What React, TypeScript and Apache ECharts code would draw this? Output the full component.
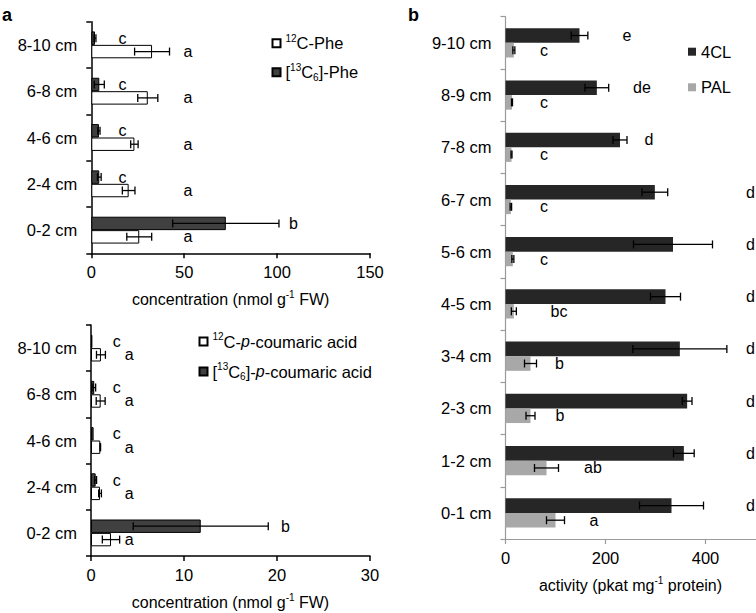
import React, { useEffect, useRef } from 'react';
import * as echarts from 'echarts';

const FONT = "'Liberation Sans', Arial, Helvetica, sans-serif";

// Panel a (top): Phe
const pheCats = ['0-2 cm', '2-4 cm', '4-6 cm', '6-8 cm', '8-10 cm'];
const phe12 = [25.8, 20.1, 23.2, 30.4, 32.7];
const phe12Err = [6.7, 3.4, 2.0, 5.4, 9.4];
const phe13 = [72.4, 4.3, 4.1, 4.3, 2.0];
const phe13Err = [28.6, 1.0, 0.6, 2.7, 0.5];
const phe13Letters = ['b', 'c', 'c', 'c', 'c'];
const phe13LetterX = [108.8, 16.8, 16.8, 16.8, 16.8];
const phe12Letters = ['a', 'a', 'a', 'a', 'a'];
const phe12LetterX = [52, 52, 52, 52, 52];

// Panel a (bottom): p-coumaric acid
const couCats = ['0-2 cm', '2-4 cm', '4-6 cm', '6-8 cm', '8-10 cm'];
const cou12 = [2.15, 0.97, 1.0, 1.04, 1.07];
const cou12Err = [0.93, 0.15, 0.03, 0.48, 0.48];
const cou13 = [11.8, 0.5, 0.28, 0.35, 0.15];
const cou13Err = [7.26, 0.1, 0.0, 0.15, 0.0];
const cou13Letters = ['b', 'c', 'c', 'c', 'c'];
const cou13LetterX = [20.9, 2.76, 2.76, 2.76, 2.76];
const cou12Letters = ['a', 'a', 'a', 'a', 'a'];
const cou12LetterX = [4.1, 4.1, 4.1, 4.1, 4.1];

// Panel b: enzyme activity
const actCats = ['0-1 cm', '1-2 cm', '2-3 cm', '3-4 cm', '4-5 cm', '5-6 cm', '6-7 cm', '7-8 cm', '8-9 cm', '9-10 cm'];
const cl4 = [332, 356.7, 363.3, 348.7, 320, 335, 298.7, 229, 182.7, 148];
const cl4Err = [64, 20.7, 9.7, 94, 30, 79, 25.7, 14, 23.7, 16.7];
const pal = [100, 82, 50, 50, 16.7, 14.7, 10.7, 12, 13, 16.7];
const palErr = [18, 24, 9, 12, 5, 2, 1.5, 1, 1, 2];
const cl4Letters = ['d', 'd', 'd', 'd', 'd', 'd', 'd', 'd', 'de', 'e'];
const cl4LetterX = [490, 490, 490, 490, 490, 490, 490, 287, 273, 243];
const palLetters = ['a', 'ab', 'b', 'b', 'bc', 'c', 'c', 'c', 'c', 'c'];
const palLetterX = [177, 175, 109, 108, 107, 77, 77, 77, 77, 77];

const legendNames: Record<string, string> = {
  '12C-Phe': '{sup|12}C-Phe',
  '13C6-Phe': '[{sup|13}C{sub|6}]-Phe',
  '12C-p-coumaric acid': '{sup|12}C-{it|p}-coumaric acid',
  '13C6-p-coumaric acid': '[{sup|13}C{sub|6}]-{it|p}-coumaric acid',
  '4CL': '4CL',
  PAL: 'PAL',
};

const rich = {
  sup: { fontSize: 10, lineHeight: 14, verticalAlign: 'top', fontFamily: FONT, color: '#000' },
  sub: { fontSize: 10, lineHeight: 14, verticalAlign: 'bottom', fontFamily: FONT, color: '#000' },
  it: { fontSize: 16, lineHeight: 20, fontStyle: 'italic', fontFamily: FONT, color: '#000' },
};

function errorSeries(xi: number, values: number[], errs: number[], sign: number, factor: number, color: string) {
  return {
    type: 'custom',
    xAxisIndex: xi,
    yAxisIndex: xi,
    silent: true,
    z: 5,
    data: values.map((v, i) => [v, i, errs[i]]),
    encode: { x: 0, y: 1 },
    renderItem: (params: any, api: any) => {
      const v = api.value(0);
      const c = api.value(1);
      const e = api.value(2);
      if (!e) return null;
      const band = api.size([0, 1])[1];
      const cy = api.coord([v, c])[1] + sign * band * factor;
      const x1 = api.coord([v - e, c])[0];
      const x2 = api.coord([v + e, c])[0];
      const h = 4;
      const style = { stroke: color, lineWidth: 1.3 };
      return {
        type: 'group',
        children: [
          { type: 'line', shape: { x1, y1: cy, x2, y2: cy }, style },
          { type: 'line', shape: { x1, y1: cy - h, x2: x1, y2: cy + h }, style },
          { type: 'line', shape: { x1: x2, y1: cy - h, x2, y2: cy + h }, style },
        ],
      };
    },
  };
}

function letterSeries(xi: number, xs: number[], letters: string[], sign: number, factor: number) {
  return {
    type: 'custom',
    xAxisIndex: xi,
    yAxisIndex: xi,
    silent: true,
    z: 6,
    data: xs.map((x, i) => [x, i]),
    encode: { x: 0, y: 1 },
    renderItem: (params: any, api: any) => {
      const c = api.value(1);
      const p = api.coord([api.value(0), c]);
      const band = api.size([0, 1])[1];
      return {
        type: 'text',
        x: p[0],
        y: p[1] + sign * band * factor,
        style: {
          text: letters[params.dataIndex],
          fill: '#000',
          fontSize: 16,
          fontFamily: FONT,
          align: 'center',
          verticalAlign: 'middle',
        },
      };
    },
  };
}

function valueAxis(gi: number, max: number, interval: number, name: string, color: string, lw: number) {
  return {
    gridIndex: gi,
    type: 'value',
    min: 0,
    max,
    interval,
    axisLine: { show: true, lineStyle: { color, width: lw } },
    axisTick: { show: true, length: 5, lineStyle: { color, width: lw } },
    splitLine: { show: false },
    axisLabel: { color: '#000', fontSize: 16.5, fontFamily: FONT, margin: 10, showMaxLabel: gi !== 2 },
    name,
    nameLocation: 'middle',
    nameGap: 36,
    nameTextStyle: { color: '#000', fontSize: 16, fontFamily: FONT, lineHeight: 20, rich },
  };
}

function catAxis(gi: number, cats: string[], color: string, lw: number) {
  return {
    gridIndex: gi,
    type: 'category',
    data: cats,
    axisLine: { show: true, lineStyle: { color, width: lw } },
    axisTick: { show: true, length: 5, lineStyle: { color, width: lw } },
    axisLabel: { color: '#000', fontSize: 16.5, fontFamily: FONT, margin: 14 },
    splitLine: { show: false },
  };
}

function legend(left: number, top: number, gap: number, data: string[]) {
  return {
    orient: 'vertical',
    left,
    top,
    padding: 0,
    itemWidth: 8,
    itemHeight: 8,
    itemGap: gap,
    icon: 'rect',
    selectedMode: false,
    data,
    formatter: (n: string) => legendNames[n] || n,
    textStyle: { color: '#000', fontSize: 16.5, fontFamily: FONT, lineHeight: 20, rich },
  };
}

export default function App() {
  const ref = useRef<HTMLDivElement>(null);
  useEffect(() => {
    if (!ref.current) return;
    const chart = echarts.init(ref.current, undefined, { renderer: 'svg' });
    const lF = 0.145;
    const rF = 0.14;
    const option: any = {
      animation: false,
      backgroundColor: '#fff',
      textStyle: { fontFamily: FONT },
      grid: [
        { left: 91.3, top: 21.7, width: 278.7, height: 231.6 },
        { left: 91, top: 325, width: 279, height: 232.7 },
        { left: 505.5, top: 16.7, width: 250, height: 522.3 },
      ],
      xAxis: [
        valueAxis(0, 150, 50, 'concentration (nmol g{sup|-1} FW)', '#000', 1.5),
        valueAxis(1, 30, 10, 'concentration (nmol g{sup|-1} FW)', '#000', 1.5),
        valueAxis(2, 500, 200, 'activity (pkat mg{sup|-1} protein)', '#9a9a9a', 1.2),
      ],
      yAxis: [
        catAxis(0, pheCats, '#000', 1.5),
        catAxis(1, couCats, '#000', 1.5),
        catAxis(2, actCats, '#9a9a9a', 1.2),
      ],
      legend: [
        legend(271.5, 33.3, 9, ['12C-Phe', '13C6-Phe']),
        legend(198.5, 331.5, 10, ['12C-p-coumaric acid', '13C6-p-coumaric acid']),
        legend(688, 41.7, 15.6, ['4CL', 'PAL']),
      ],
      graphic: [
        { type: 'text', left: 2, top: 6, style: { text: 'a', fontSize: 18, fontWeight: 'bold', fontFamily: FONT, fill: '#000' } },
        { type: 'text', left: 408, top: 6, style: { text: 'b', fontSize: 18, fontWeight: 'bold', fontFamily: FONT, fill: '#000' } },
      ],
      series: [
        { type: 'bar', name: '13C6-Phe', xAxisIndex: 0, yAxisIndex: 0, data: phe13, barCategoryGap: '42%', barGap: '0%', itemStyle: { color: '#404040', borderColor: '#000', borderWidth: 1 } },
        { type: 'bar', name: '12C-Phe', xAxisIndex: 0, yAxisIndex: 0, data: phe12, barCategoryGap: '42%', barGap: '0%', itemStyle: { color: '#fff', borderColor: '#000', borderWidth: 1 } },
        { type: 'bar', name: '13C6-p-coumaric acid', xAxisIndex: 1, yAxisIndex: 1, data: cou13, barCategoryGap: '42%', barGap: '0%', itemStyle: { color: '#404040', borderColor: '#000', borderWidth: 1 } },
        { type: 'bar', name: '12C-p-coumaric acid', xAxisIndex: 1, yAxisIndex: 1, data: cou12, barCategoryGap: '42%', barGap: '0%', itemStyle: { color: '#fff', borderColor: '#000', borderWidth: 1 } },
        { type: 'bar', name: '4CL', xAxisIndex: 2, yAxisIndex: 2, data: cl4, barCategoryGap: '44%', barGap: '0%', itemStyle: { color: '#262626' } },
        { type: 'bar', name: 'PAL', xAxisIndex: 2, yAxisIndex: 2, data: pal, barCategoryGap: '44%', barGap: '0%', itemStyle: { color: '#a8a8a8' } },
        errorSeries(0, phe13, phe13Err, -1, lF, '#000'),
        errorSeries(0, phe12, phe12Err, 1, lF, '#000'),
        errorSeries(1, cou13, cou13Err, -1, lF, '#000'),
        errorSeries(1, cou12, cou12Err, 1, lF, '#000'),
        errorSeries(2, cl4, cl4Err, -1, rF, '#000'),
        errorSeries(2, pal, palErr, 1, rF, '#000'),
        letterSeries(0, phe13LetterX, phe13Letters, -1, lF),
        letterSeries(0, phe12LetterX, phe12Letters, 1, lF),
        letterSeries(1, cou13LetterX, cou13Letters, -1, lF),
        letterSeries(1, cou12LetterX, cou12Letters, 1, lF),
        letterSeries(2, cl4LetterX, cl4Letters, -1, rF),
        letterSeries(2, palLetterX, palLetters, 1, rF),
      ],
    };
    chart.setOption(option);
    return () => chart.dispose();
  }, []);
  return <div ref={ref} style={{ position: 'absolute', left: 0, top: 0, width: 756, height: 613 }} />;
}
